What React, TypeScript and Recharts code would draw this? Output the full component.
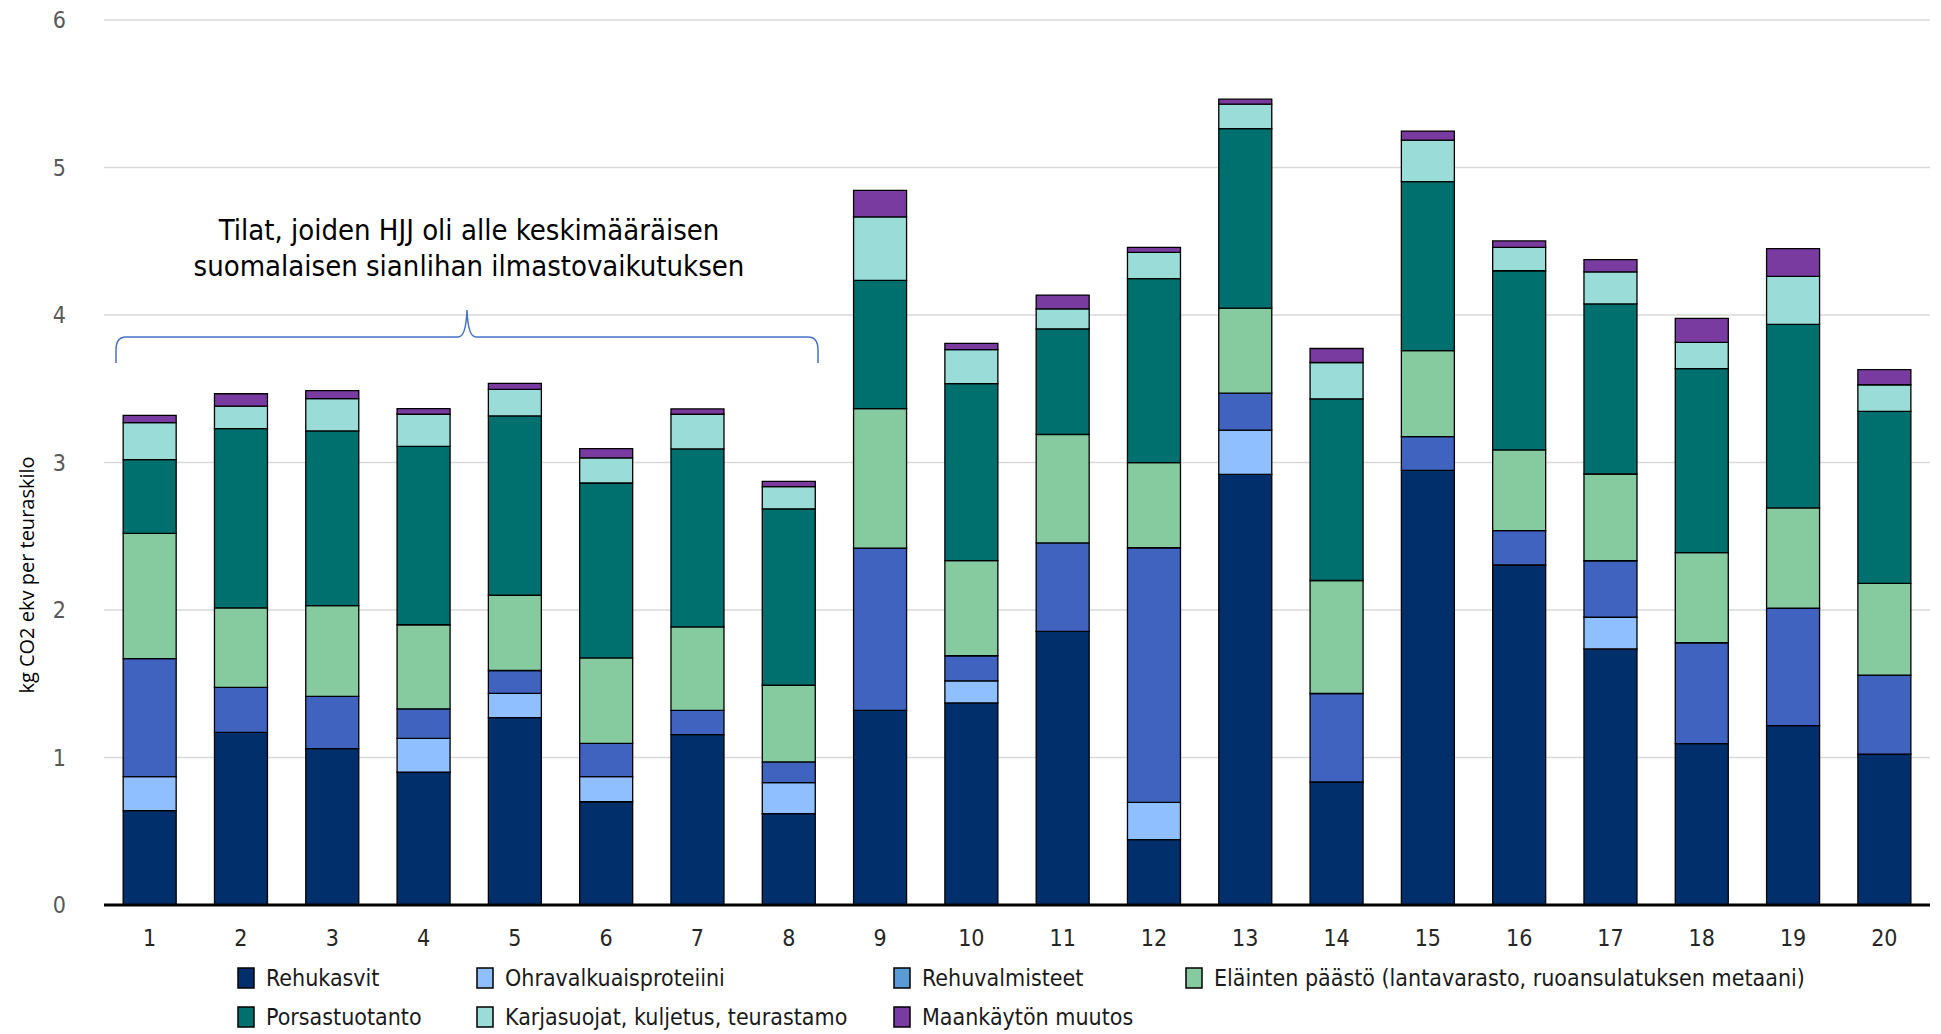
import { BarChart, Bar, XAxis, YAxis, CartesianGrid } from "recharts"

const farms = ["1", "2", "3", "4", "5", "6", "7", "8", "9", "10", "11", "12", "13", "14", "15", "16", "17", "18", "19", "20"]

const rehukasvit = [0.64, 1.17, 1.06, 0.9, 1.27, 0.7, 1.155, 0.62, 1.32, 1.37, 1.855, 0.443, 2.92, 0.834, 2.947, 2.305, 1.736, 1.094, 1.216, 1.022]
const ohravalkuaisproteiini = [0.23, 0, 0, 0.23, 0.165, 0.17, 0, 0.21, 0, 0.15, 0, 0.253, 0.3, 0, 0, 0, 0.215, 0, 0, 0]
const rehuvalmisteet = [0.8, 0.305, 0.355, 0.2, 0.155, 0.226, 0.165, 0.14, 1.1, 0.17, 0.6, 1.726, 0.25, 0.6, 0.228, 0.233, 0.383, 0.684, 0.796, 0.537]
const elaintenPaasto = [0.85, 0.54, 0.615, 0.57, 0.51, 0.579, 0.565, 0.52, 0.945, 0.645, 0.735, 0.577, 0.576, 0.766, 0.583, 0.547, 0.588, 0.611, 0.68, 0.622]
const porsastuotanto = [0.5, 1.214, 1.184, 1.21, 1.216, 1.186, 1.207, 1.196, 0.87, 1.2, 0.716, 1.247, 1.218, 1.232, 1.146, 1.215, 1.153, 1.247, 1.245, 1.166]
const karjasuojat = [0.25, 0.153, 0.219, 0.217, 0.18, 0.17, 0.235, 0.15, 0.43, 0.23, 0.136, 0.179, 0.165, 0.246, 0.282, 0.159, 0.217, 0.179, 0.325, 0.18]
const maankaytto = [0.05, 0.084, 0.054, 0.038, 0.04, 0.063, 0.036, 0.036, 0.18, 0.043, 0.093, 0.034, 0.034, 0.095, 0.061, 0.043, 0.083, 0.162, 0.188, 0.102]

const yTicks = [0, 1, 2, 3, 4, 5, 6]

const series = [
  { key: "rehukasvit", name: "Rehukasvit", color: "#002f6c", legend: "#002f6c", values: rehukasvit },
  { key: "ohra", name: "Ohravalkuaisproteiini", color: "#8fbfff", legend: "#8fbfff", values: ohravalkuaisproteiini },
  { key: "rehuvalmisteet", name: "Rehuvalmisteet", color: "#4163c0", legend: "#5b9bd5", values: rehuvalmisteet },
  { key: "elainten", name: "Eläinten päästö (lantavarasto, ruoansulatuksen metaani)", color: "#86cba0", legend: "#86cba0", values: elaintenPaasto },
  { key: "porsas", name: "Porsastuotanto", color: "#00706e", legend: "#00706e", values: porsastuotanto },
  { key: "karja", name: "Karjasuojat, kuljetus, teurastamo", color: "#9adcd8", legend: "#9adcd8", values: karjasuojat },
  { key: "maankaytto", name: "Maankäytön muutos", color: "#7a3ba0", legend: "#7a3ba0", values: maankaytto },
]

const data = farms.map((farm, i) => {
  const row: Record<string, string | number> = { farm }
  series.forEach((s) => {
    row[s.key] = s.values[i]
  })
  return row
})

const narrow = "'Liberation Sans Narrow', 'DejaVu Sans Condensed', 'Open Sans', sans-serif"

// legend slots, two rows like the original
const legendPos = [
  [238, 968], [477, 968], [894, 968], [1186, 968],
  [238, 1007], [477, 1007], [894, 1007],
]

export default function App() {
  return (
    <div style={{ position: "absolute", left: 0, top: 0, width: 1941, height: 1034, background: "#fff" }}>
      <BarChart
        width={1941}
        height={1034}
        data={data}
        margin={{ top: 20, right: 11, left: 0, bottom: 69 }}
        barCategoryGap="21%"
      >
        <CartesianGrid vertical={false} stroke="#d9d9d9" strokeWidth={1.5} />
        <XAxis
          dataKey="farm"
          height={60}
          axisLine={{ stroke: "#000", strokeWidth: 3 }}
          tickLine={false}
          tickSize={0}
          tickMargin={25}
          tick={{ fill: "#262626", fontSize: 23, fontFamily: narrow }}
          interval={0}
        />
        <YAxis
          width={104}
          domain={[0, 6]}
          ticks={yTicks}
          axisLine={false}
          tickLine={false}
          tickSize={0}
          tickMargin={38}
          tick={{ fill: "#595959", fontSize: 23, fontFamily: narrow }}
        />
        {series.map((s) => (
          <Bar
            key={s.key}
            dataKey={s.key}
            name={s.name}
            stackId="a"
            fill={s.color}
            stroke="#000"
            strokeWidth={1.3}
            isAnimationActive={false}
          />
        ))}
      </BarChart>

      <svg
        width={1941}
        height={1034}
        style={{ position: "absolute", left: 0, top: 0, pointerEvents: "none" }}
      >
        <text
          transform="translate(34,575) rotate(-90)"
          textAnchor="middle"
          fontSize={20}
          fontFamily="'Open Sans', sans-serif"
          fill="#000"
        >
          kg CO2 ekv per teuraskilo
        </text>

        <g fontFamily={narrow} fontSize={29} fill="#000" textAnchor="middle">
          <text x={469} y={240}>Tilat, joiden HJJ oli alle keskimääräisen</text>
          <text x={469} y={276}>suomalaisen sianlihan ilmastovaikutuksen</text>
        </g>
        <path
          d="M116,363 L116,350 Q116,337 126,337 L458,337 Q466,337 467,310 Q468,337 476,337 L808,337 Q818,337 818,350 L818,363"
          fill="none"
          stroke="#4472c4"
          strokeWidth={1.5}
        />

        {series.map((s, i) => (
          <g key={s.key}>
            <rect
              x={legendPos[i][0]}
              y={legendPos[i][1]}
              width={16}
              height={20}
              fill={s.legend}
              stroke="#000"
              strokeWidth={1.5}
            />
            <text
              x={legendPos[i][0] + 28}
              y={legendPos[i][1] + 18}
              fontSize={23}
              fontFamily={narrow}
              fill="#1a1a1a"
            >
              {s.name}
            </text>
          </g>
        ))}
      </svg>
    </div>
  )
}
